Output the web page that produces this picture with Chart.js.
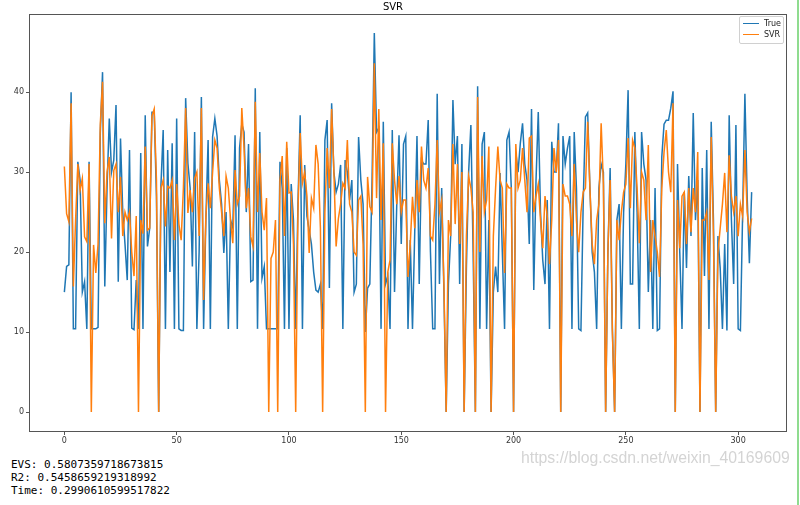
<!DOCTYPE html>
<html>
<head>
<meta charset="utf-8">
<script src="https://cdn.jsdelivr.net/npm/chart.js@4.4.0/dist/chart.umd.min.js"></script>
<style>
  html, body { margin: 0; padding: 0; background: #fff; width: 800px; height: 505px; overflow: hidden; }
  #wrap { position: absolute; left: 0; top: 0; width: 800px; height: 455px; }
  #legend { position: absolute; left: 739px; top: 16px; width: 43px; height: 26px; border: 1px solid #d0d0d0; border-radius: 2px; background: rgba(255,255,255,0.85); font-family: "DejaVu Sans", sans-serif; font-size: 8px; color: #222; }
  .row { position: absolute; left: 3px; height: 10px; line-height: 10px; white-space: nowrap; }
  .row span.sw { display: inline-block; width: 16px; height: 1.5px; vertical-align: middle; margin-right: 5px; }
  #stats { position: absolute; left: 11px; top: 458px; font-family: "DejaVu Sans Mono", monospace; font-size: 11px; line-height: 13px; color: #000; white-space: pre; }
  #wm { position: absolute; left: 521px; top: 449px; font-family: "Liberation Sans", Arial, sans-serif; font-size: 15.8px; color: #d4d4d4; white-space: nowrap; }
  #edge { position: absolute; left: 797px; top: 0; width: 2px; height: 505px; background: #8fdc8f; }
</style>
</head>
<body>
<div id="wrap"><canvas id="c" width="800" height="455"></canvas></div>
<div id="legend">
  <div class="row" style="top:2px"><span class="sw" style="background:#1f77b4"></span>True</div>
  <div class="row" style="top:13px"><span class="sw" style="background:#ff7f0e"></span>SVR</div>
</div>
<div id="stats">EVS: 0.5807359718673815
R2: 0.5458659219318992
Time: 0.2990610599517822</div>
<div id="wm">https://blog.csdn.net/weixin_40169609</div>
<div id="edge"></div>
<script>
const chartTitle = "SVR";
const seriesNames = ["True", "SVR"];
const xTickValues = [0, 50, 100, 150, 200, 250, 300];
const yTickValues = [0, 10, 20, 30, 40];

const trueVals = [
  15, 18.2, 18.4, 40, 10.4, 10.4, 31.3, 29, 15, 16.3,
  10.4, 31.3, 10.4, 10.4, 10.4, 10.6, 34.9, 42.5, 15.7, 28,
  36.7, 30, 31.5, 38.4, 16.3, 34.2, 25, 21, 16.5, 32.75,
  10.5, 10.3, 16.5, 10.4, 32.4, 10.4, 37.1, 20.7, 23, 37.5,
  37.5, 27, 0, 28.4, 35.25, 10.4, 32.75, 17.5, 33.6, 10.4,
  36.7, 10.4, 10.2, 10.2, 39.25, 31.1, 28, 18.2, 35, 10.4,
  20, 39.4, 10.4, 24, 34, 10.4, 34.4, 36.7, 34.5, 29,
  26, 19.9, 25, 10.4, 24, 23, 34.6, 10.4, 33, 36,
  35, 25, 33.5, 16.3, 16.5, 40.5, 10.4, 35, 16.75, 18.2,
  10.4, 10.4, 10.4, 10.4, 10.4, 10.4, 31.3, 28, 10.4, 33,
  10.4, 28.5, 24, 10.4, 26, 37.1, 10.4, 30.9, 24.5, 22.75,
  21, 17.5, 15.25, 15, 16, 10.4, 34, 36.5, 15.5, 38.6,
  30, 27.5, 28.5, 30.9, 10.4, 31.5, 30, 26.5, 29, 15,
  16, 34.4, 29, 26, 10, 15.5, 16, 29, 47.4, 35,
  35.5, 10.4, 36.3, 16, 17, 10.4, 35.25, 15, 26, 34.6,
  21, 33.5, 34.5, 10.4, 21.5, 10.4, 22.5, 34.5, 16, 31.5,
  31, 31, 36.5, 20, 10.4, 10.4, 39.8, 16, 28, 15,
  0, 16, 22, 39, 31, 34.5, 16, 33.5, 0, 18,
  30, 35.9, 20, 0, 40.75, 10.4, 33.5, 35, 10.4, 24,
  0, 15, 18.2, 15, 29.9, 20, 10.4, 34, 35, 28,
  0, 32.5, 30, 33.6, 36.1, 31, 29, 21, 37.9, 15.25,
  29, 37.5, 25, 19, 16, 26.5, 10.4, 33.8, 30, 30,
  36.1, 0, 34.5, 31, 33, 34.5, 10.4, 35, 28, 10.4,
  10.2, 26, 36.9, 37.4, 28, 20, 17.5, 10.4, 28, 31,
  30, 0, 20, 30.5, 10.4, 0, 24, 26, 10.4, 25,
  31, 40.25, 16, 16, 35, 25, 10.4, 35, 31, 29,
  15, 24, 10.4, 28, 10.2, 10.4, 31.9, 36, 36.5, 36.5,
  38, 40.1, 0, 31, 20, 10.4, 27.5, 18, 29.5, 22,
  37.4, 24, 29, 0, 30.5, 17, 32.75, 10.4, 36.3, 24,
  0, 22, 18, 10.4, 21, 10.2, 37.1, 24, 16, 35.9,
  10.4, 10.2, 25, 39.8, 27, 18.6, 27.5
];

const svrVals = [
  30.7, 24.8, 23.8, 38.6, 15.7, 24, 31, 27.75, 29.2, 21.9,
  21.3, 31, 0, 20.9, 17.4, 21, 36, 41.3, 23.6, 30,
  31.9, 21.7, 30.2, 31, 25, 29.4, 22, 25, 24, 25,
  20, 17, 24.5, 0, 24, 22.3, 33.2, 22.75, 23, 37,
  37.9, 29, 0, 28, 29, 23.2, 28.2, 28, 29, 21.5,
  28.5, 23.5, 21.5, 28, 38, 24.9, 27.75, 25, 29.2, 30,
  22, 38, 14, 24.5, 28.6, 25.5, 30, 34, 33, 28,
  25, 22, 29.5, 28, 24, 21.1, 30.25, 26, 27, 38,
  33, 25.5, 28, 21.9, 20.7, 38.8, 25, 32.4, 25, 22.75,
  26.75, 0, 19.2, 20, 24, 0, 29, 32, 22, 33.8,
  27.4, 27.5, 21, 0, 25, 34.9, 28.6, 30, 27, 19.9,
  26.75, 25.5, 33.4, 31, 23, 0, 25, 33, 28, 37.9,
  30, 20.7, 24.2, 26, 28.6, 28, 34, 26, 25, 20,
  19.6, 26.5, 27, 21, 0, 29.4, 25.7, 25, 43.6, 26.75,
  37.9, 24, 33.6, 0, 17.5, 19, 33.6, 29, 26, 29.5,
  25, 26.5, 26.5, 16.9, 21, 26.9, 23, 29, 25, 33.2,
  29, 28, 30.5, 22, 21.5, 26, 34, 25, 26.5, 16,
  0, 24, 22, 33.5, 23.5, 31, 21, 30, 0, 22,
  29.5, 28, 25, 0, 39.4, 20, 32, 25, 26.5, 33.2,
  0, 22, 28, 33.2, 29, 28, 17.4, 28.5, 28, 28,
  0, 33.5, 28, 29, 33, 29, 25, 34.25, 34.5, 25,
  27, 28.5, 24, 20.5, 27, 24.5, 18.5, 24, 33, 30,
  34, 0, 28.5, 27, 27, 26, 22, 31, 24, 20,
  25, 27.5, 28, 36.3, 28, 21, 18.5, 24, 26, 36.1,
  28.5, 0, 20, 29, 10, 0, 24, 21.5, 25, 27.5,
  28.5, 34.25, 25.5, 34, 33, 28, 21.1, 30, 29, 24,
  33.4, 17.5, 24, 22, 20, 16.9, 28, 32.5, 35.25, 30,
  27.5, 38.6, 0, 26.5, 20.5, 27, 27.5, 21, 28, 22.5,
  28, 25, 32.5, 0, 24, 24, 25, 16.5, 34.4, 22,
  0, 20, 23, 26, 29.9, 22.5, 32.1, 27, 25, 27,
  22, 26, 24.5, 32.75, 25, 22.5, 24.2
];

const toPoints = arr => arr.map((v, i) => ({ x: i, y: v }));
const n = trueVals.length - 1;
const xMargin = n * 0.05;
const yMax = Math.max(...trueVals, ...svrVals), yMin = Math.min(...trueVals, ...svrVals);
const yMargin = (yMax - yMin) * 0.05;

const boxPlugin = {
  id: 'box',
  afterDraw(chart) {
    const { ctx, chartArea: a } = chart;
    ctx.save();
    ctx.strokeStyle = '#555';
    ctx.lineWidth = 1;
    ctx.strokeRect(Math.round(a.left) - 0.5, Math.round(a.top) + 0.5, Math.round(a.right - a.left) + 1, Math.round(a.bottom - a.top));
    ctx.restore();
  }
};

new Chart(document.getElementById('c'), {
  type: 'line',
  data: {
    datasets: [
      { label: seriesNames[0], data: toPoints(trueVals), borderColor: '#1f77b4', backgroundColor: '#1f77b4', borderWidth: 1.5, pointRadius: 0, tension: 0, order: 2 },
      { label: seriesNames[1], data: toPoints(svrVals), borderColor: '#ff7f0e', backgroundColor: '#ff7f0e', borderWidth: 1.5, pointRadius: 0, tension: 0, order: 1 }
    ]
  },
  options: {
    responsive: false,
    animation: false,
    events: [],
    layout: { padding: { left: 0, right: 14, top: 0, bottom: 0 } },
    plugins: {
      legend: { display: false },
      tooltip: { enabled: false },
      title: { display: true, text: chartTitle, color: '#000', font: { family: 'DejaVu Sans', size: 10, weight: 'normal' }, padding: { top: 1, bottom: 1 } }
    },
    scales: {
      x: {
        type: 'linear', min: -xMargin, max: n + xMargin,
        afterBuildTicks: s => { s.ticks = xTickValues.map(v => ({ value: v })); },
        afterFit: s => { s.height = 24; },
        ticks: { color: '#333', font: { family: 'DejaVu Sans', size: 8 }, padding: 1, maxRotation: 0, autoSkip: false },
        grid: { display: true, drawOnChartArea: false, drawTicks: true, tickLength: 4, color: '#555' },
        border: { display: false }
      },
      y: {
        type: 'linear', min: yMin - yMargin, max: yMax + yMargin,
        afterBuildTicks: s => { s.ticks = yTickValues.map(v => ({ value: v })); },
        afterFit: s => { s.width = 30; },
        ticks: { color: '#333', font: { family: 'DejaVu Sans', size: 8 }, padding: 2, autoSkip: false },
        grid: { display: true, drawOnChartArea: false, drawTicks: true, tickLength: 4, color: '#555' },
        border: { display: false }
      }
    }
  },
  plugins: [boxPlugin]
});
</script>
</body>
</html>
